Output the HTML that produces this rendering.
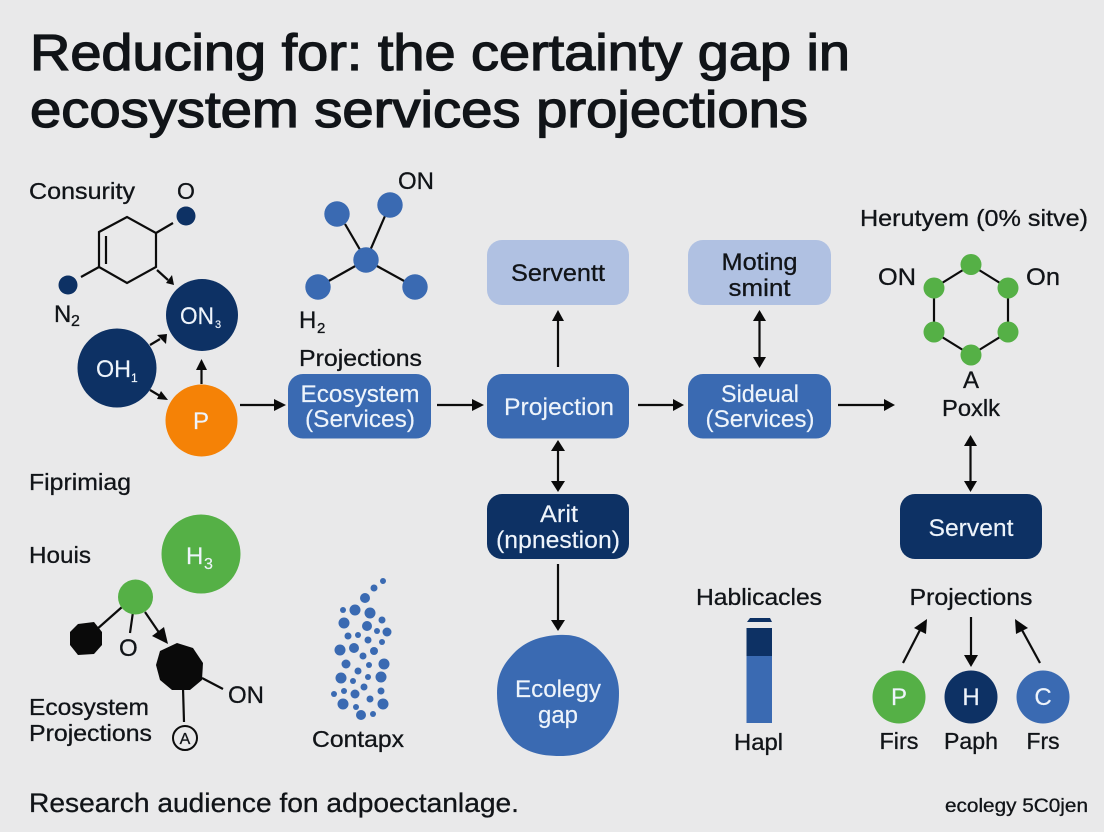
<!DOCTYPE html>
<html><head><meta charset="utf-8"><style>
html,body{margin:0;padding:0;background:#e9e9ea;width:1104px;height:832px;overflow:hidden}
svg{display:block}
text{font-family:"Liberation Sans",sans-serif;fill:#111418;stroke:#111418;stroke-width:.3}
text.w{fill:#eef4fb;stroke:#eef4fb;stroke-width:.15}
.l{stroke:#0c0c0c;stroke-width:2.2;fill:none}
.h{fill:#0a0a0a;stroke:none}
</style></head><body>
<svg width="1104" height="832" viewBox="0 0 1104 832" xmlns="http://www.w3.org/2000/svg">
<rect width="1104" height="832" fill="#e9e9ea"/>

<!-- Title -->
<text x="30" y="70" font-size="51" textLength="820" lengthAdjust="spacingAndGlyphs" style="stroke-width:1.3">Reducing for: the certainty gap in</text>
<text x="30" y="127" font-size="51" textLength="778" lengthAdjust="spacingAndGlyphs" style="stroke-width:1.3">ecosystem services projections</text>

<!-- Left top molecule -->
<text x="29" y="199" font-size="23" textLength="106" lengthAdjust="spacingAndGlyphs">Consurity</text>
<text x="177" y="199" font-size="23">O</text>
<path class="l" d="M99 232 L127 217 L156 233 L156 267 L127 283 L99 267 Z M106 236 L106 264 M156 233 L173 223 M99 267 L81 277"/>
<circle cx="186" cy="216" r="9.500" fill="#0d3164"/>
<circle cx="68" cy="285" r="9.500" fill="#0d3164"/>
<text x="54" y="322" font-size="24">N</text><text x="71" y="326" font-size="16">2</text>
<path class="l" d="M157 270 L168 280"/><polygon class="h" points="174,285 166,283 172,275"/>

<circle cx="202" cy="315" r="36" fill="#0d3164"/>
<text x="180" y="324" font-size="24" class="w" textLength="34" lengthAdjust="spacingAndGlyphs">ON</text><text x="215" y="328" font-size="11" class="w">3</text>
<circle cx="117" cy="368" r="39.500" fill="#0d3164"/>
<text x="96" y="377" font-size="24" class="w" textLength="35" lengthAdjust="spacingAndGlyphs">OH</text><text x="131" y="382" font-size="12" class="w">1</text>
<circle cx="201.500" cy="420.500" r="36" fill="#f58206"/>
<text x="193" y="429" font-size="24" class="w">P</text>
<path class="l" d="M150 345 L160 339"/><polygon class="h" points="167,334 157,335 166,344"/>
<path class="l" d="M150 390 L160 396"/><polygon class="h" points="168,400 161,391 157,399"/>
<path class="l" d="M201.500 384 L201.500 368"/><polygon class="h" points="201.500,359 207,370 196,370"/>
<path class="l" d="M240 405 L275 405"/><polygon class="h" points="286,405 274,399 274,411"/>

<!-- Second molecule -->
<path class="l" d="M345 224 L366 260 M385 216 L366 260 M318 287 L366 260 M415 287 L366 260"/>
<circle cx="337" cy="214" r="12.700" fill="#3a6ab2"/>
<circle cx="390" cy="205" r="12.700" fill="#3a6ab2"/>
<circle cx="366" cy="260" r="12.700" fill="#3a6ab2"/>
<circle cx="318" cy="287" r="12.700" fill="#3a6ab2"/>
<circle cx="415" cy="287" r="12.700" fill="#3a6ab2"/>
<text x="398" y="189" font-size="24">ON</text>
<text x="299" y="328" font-size="24">H</text><text x="317" y="333" font-size="15">2</text>
<text x="299" y="366" font-size="23" textLength="123" lengthAdjust="spacingAndGlyphs">Projections</text>

<!-- Main row boxes -->
<rect x="288" y="374" width="143" height="64.500" rx="15" fill="#3a6ab2"/>
<text x="360" y="402" font-size="24" class="w" text-anchor="middle" textLength="119" lengthAdjust="spacingAndGlyphs">Ecosystem</text>
<text x="360" y="427" font-size="24" class="w" text-anchor="middle" textLength="110" lengthAdjust="spacingAndGlyphs">(Services)</text>
<path class="l" d="M437 405 L474 405"/><polygon class="h" points="484,405 472,399 472,411"/>

<rect x="487" y="374" width="142" height="64.500" rx="15" fill="#3a6ab2"/>
<text x="559" y="415" font-size="24" class="w" text-anchor="middle" textLength="110" lengthAdjust="spacingAndGlyphs">Projection</text>
<path class="l" d="M638 405 L675 405"/><polygon class="h" points="684,405 673,399 673,411"/>

<rect x="688" y="374" width="143" height="64.500" rx="15" fill="#3a6ab2"/>
<text x="760" y="402" font-size="24" class="w" text-anchor="middle" textLength="78" lengthAdjust="spacingAndGlyphs">Sideual</text>
<text x="760" y="427" font-size="24" class="w" text-anchor="middle" textLength="109" lengthAdjust="spacingAndGlyphs">(Services)</text>
<path class="l" d="M838 405 L885 405"/><polygon class="h" points="895,405 884,399 884,411"/>

<!-- Light boxes -->
<rect x="487" y="240" width="142" height="65" rx="15" fill="#b0c1e2"/>
<text x="558" y="281" font-size="24" text-anchor="middle" textLength="94" lengthAdjust="spacingAndGlyphs">Serventt</text>
<path class="l" d="M558 367 L558 320"/><polygon class="h" points="558,310 564,321 552,321"/>

<rect x="688" y="240" width="143" height="65" rx="15" fill="#b0c1e2"/>
<text x="759.500" y="270" font-size="24" text-anchor="middle" textLength="76" lengthAdjust="spacingAndGlyphs">Moting</text>
<text x="759.500" y="296" font-size="24" text-anchor="middle" textLength="62" lengthAdjust="spacingAndGlyphs">smint</text>
<path class="l" d="M759.500 320 L759.500 358"/><polygon class="h" points="759.500,310 766,321 753,321"/><polygon class="h" points="759.500,368 766,357 753,357"/>

<!-- Dark box + gap -->
<path class="l" d="M558 450 L558 482"/><polygon class="h" points="558,440 565,451 551,451"/><polygon class="h" points="558,492 565,481 551,481"/>
<rect x="487" y="494" width="142" height="65" rx="15" fill="#0d3164"/>
<text x="559" y="522" font-size="24" class="w" text-anchor="middle" textLength="38" lengthAdjust="spacingAndGlyphs">Arit</text>
<text x="558" y="548" font-size="24" class="w" text-anchor="middle" textLength="124" lengthAdjust="spacingAndGlyphs">(npnestion)</text>
<path class="l" d="M558 564 L558 622"/><polygon class="h" points="558,631 551,620 565,620"/>
<path d="M558 635 C575 634 584 638 596 647 C611 660 619 675 619 693 C619 711 615 725 604 738 C592 751 578 756 560 756 C540 756 525 752 513 740 C502 727 497 711 497 693 C497 675 503 664 516 651 C528 640 542 636 558 635 Z" fill="#3a6ab2"/>
<text x="558" y="697" font-size="24" class="w" text-anchor="middle" textLength="86" lengthAdjust="spacingAndGlyphs">Ecolegy</text>
<text x="558" y="723" font-size="24" class="w" text-anchor="middle" textLength="40" lengthAdjust="spacingAndGlyphs">gap</text>

<!-- Right hexagon -->
<text x="860" y="226" font-size="23" textLength="228" lengthAdjust="spacingAndGlyphs">Herutyem (0% sitve)</text>
<path class="l" d="M971 265 L1008 288 L1008 332 L971 355 L934 332 L934 288 Z"/>
<g fill="#55b046">
<circle cx="971" cy="264.500" r="10.500"/><circle cx="1008" cy="288" r="10.500"/><circle cx="1008" cy="332" r="10.500"/>
<circle cx="971" cy="355" r="10.500"/><circle cx="934" cy="332" r="10.500"/><circle cx="934" cy="288" r="10.500"/>
</g>
<text x="878" y="285" font-size="24" textLength="38" lengthAdjust="spacingAndGlyphs">ON</text>
<text x="1026" y="285" font-size="24" textLength="34" lengthAdjust="spacingAndGlyphs">On</text>
<text x="971" y="388" font-size="24" text-anchor="middle">A</text>
<text x="971" y="416" font-size="23" text-anchor="middle" textLength="58" lengthAdjust="spacingAndGlyphs">Poxlk</text>
<path class="l" d="M970.500 445 L970.500 482"/><polygon class="h" points="970.500,435 977,446 964,446"/><polygon class="h" points="970.500,492 977,481 964,481"/>
<rect x="900" y="494" width="142" height="65" rx="15" fill="#0d3164"/>
<text x="971" y="536" font-size="24" class="w" text-anchor="middle" textLength="85" lengthAdjust="spacingAndGlyphs">Servent</text>

<!-- Left lower -->
<text x="29" y="490" font-size="23" textLength="102" lengthAdjust="spacingAndGlyphs">Fiprimiag</text>
<text x="29" y="563" font-size="23" textLength="62" lengthAdjust="spacingAndGlyphs">Houis</text>
<circle cx="201" cy="554" r="39.500" fill="#55b046"/>
<text x="186" y="564" font-size="24" class="w">H</text><text x="204" y="569" font-size="16" class="w">3</text>
<path class="l" d="M122 607 L96 630 M133 612 L130 633 M145 612 L160 634"/>
<polygon class="h" points="168,644 152,636 164,627"/>
<path class="l" d="M202 678 L223 689 M183 688 L184 722"/>
<circle cx="135.500" cy="597" r="17.500" fill="#55b046"/>
<polygon class="h" points="78,624 94,622 102,632 102,645 94,654 78,655 70,645 70,632"/>
<polygon class="h" points="177,643 193,648 203,663 202,680 190,690 172,690 160,680 156,665 160,651"/>
<text x="119" y="656" font-size="24">O</text>
<text x="228" y="703" font-size="24">ON</text>
<text x="29" y="715" font-size="23" textLength="120" lengthAdjust="spacingAndGlyphs">Ecosystem</text>
<text x="29" y="741" font-size="23" textLength="123" lengthAdjust="spacingAndGlyphs">Projections</text>
<circle cx="185" cy="738" r="12" fill="none" stroke="#0c0c0c" stroke-width="2"/>
<text x="185" y="744" font-size="16" text-anchor="middle">A</text>

<!-- Dots -->
<g fill="#3a6ab2">
<circle cx="383" cy="581" r="3"/><circle cx="374" cy="588" r="3.500"/><circle cx="365" cy="598" r="5"/>
<circle cx="343" cy="610" r="3"/><circle cx="355" cy="610" r="5.500"/><circle cx="370" cy="613" r="5.500"/>
<circle cx="382" cy="620" r="3.500"/><circle cx="344" cy="623" r="5.500"/><circle cx="367" cy="626" r="5"/>
<circle cx="387" cy="632" r="4.500"/><circle cx="377" cy="631" r="3"/><circle cx="348" cy="636" r="3.500"/>
<circle cx="358" cy="635" r="3"/><circle cx="368" cy="640" r="3.500"/><circle cx="382" cy="642" r="3"/>
<circle cx="340" cy="650" r="5.500"/><circle cx="354" cy="648" r="5"/><circle cx="374" cy="651" r="4"/>
<circle cx="363" cy="656" r="3.500"/><circle cx="346" cy="664" r="4.500"/><circle cx="369" cy="665" r="3"/>
<circle cx="384" cy="664" r="5.500"/><circle cx="358" cy="671" r="3.500"/><circle cx="341" cy="678" r="5.500"/>
<circle cx="368" cy="677" r="3"/><circle cx="381" cy="677" r="5.500"/><circle cx="353" cy="681" r="3"/>
<circle cx="364" cy="687" r="3.500"/><circle cx="334" cy="694" r="3"/><circle cx="344" cy="691" r="3"/>
<circle cx="355" cy="694" r="4.500"/><circle cx="381" cy="691" r="3.500"/><circle cx="370" cy="699" r="3.500"/>
<circle cx="343" cy="704" r="5.500"/><circle cx="356" cy="707" r="3"/><circle cx="383" cy="704" r="5.500"/>
<circle cx="361" cy="715" r="5"/><circle cx="373" cy="714" r="3"/>
</g>
<text x="312" y="747" font-size="23" textLength="92" lengthAdjust="spacingAndGlyphs">Contapx</text>

<!-- Bar -->
<text x="696" y="605" font-size="23" textLength="126" lengthAdjust="spacingAndGlyphs">Hablicacles</text>
<polygon points="747,622 750,618 770,618 772,622" fill="#0d3164"/>
<rect x="746.500" y="628" width="25.500" height="29" fill="#0d3164"/>
<rect x="746.500" y="656" width="25.500" height="67" fill="#3a6ab2"/>
<text x="758.500" y="750" font-size="23" text-anchor="middle" textLength="49" lengthAdjust="spacingAndGlyphs">Hapl</text>

<!-- Bottom right -->
<text x="971" y="605" font-size="23" text-anchor="middle" textLength="123" lengthAdjust="spacingAndGlyphs">Projections</text>
<path class="l" d="M903 663 L920 630"/><polygon class="h" points="927,619 926,634 914,628"/>
<path class="l" d="M971 617 L971 658"/><polygon class="h" points="971,667 964,655 978,655"/>
<path class="l" d="M1040 663 L1022 630"/><polygon class="h" points="1015,619 1028,628 1016,634"/>
<circle cx="899" cy="697" r="26.500" fill="#55b046"/>
<circle cx="971" cy="697" r="26.500" fill="#0d3164"/>
<circle cx="1043" cy="697" r="26.500" fill="#3a6ab2"/>
<text x="899" y="705" font-size="24" class="w" text-anchor="middle">P</text>
<text x="971" y="705" font-size="24" class="w" text-anchor="middle">H</text>
<text x="1043" y="705" font-size="24" class="w" text-anchor="middle">C</text>
<text x="899" y="749" font-size="23" text-anchor="middle" textLength="39" lengthAdjust="spacingAndGlyphs">Firs</text>
<text x="971" y="749" font-size="23" text-anchor="middle" textLength="54" lengthAdjust="spacingAndGlyphs">Paph</text>
<text x="1043" y="749" font-size="23" text-anchor="middle" textLength="33" lengthAdjust="spacingAndGlyphs">Frs</text>

<!-- Footer -->
<text x="29" y="812" font-size="27" textLength="490" lengthAdjust="spacingAndGlyphs">Research audience fon adpoectanlage.</text>
<text x="945" y="812" font-size="19" textLength="143" lengthAdjust="spacingAndGlyphs">ecolegy 5C0jen</text>
</svg>
</body></html>
